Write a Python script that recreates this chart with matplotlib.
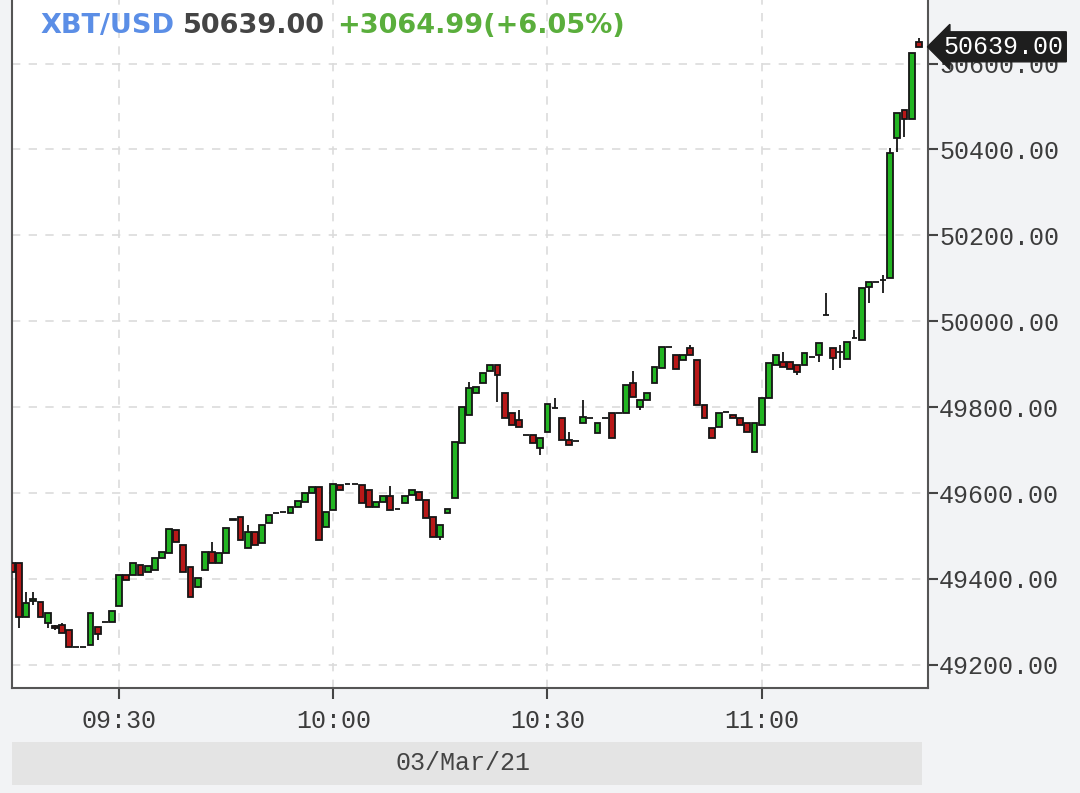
import matplotlib
matplotlib.use("Agg")
import matplotlib.pyplot as plt
from matplotlib.patches import Rectangle
import numpy as np

# 1-minute candles from 09:15 to 11:22, 03/Mar/21
opens = [49437, 49437, 49312, 49349, 49347, 49298, 49290, 49293, 49281, 49242,
         49242, 49247, 49288, 49300, 49300, 49337, 49410, 49410, 49433, 49416,
         49421, 49449, 49461, 49514, 49479, 49428, 49382, 49421, 49463, 49437,
         49461, 49540, 49545, 49472, 49510, 49484, 49531, 49554, 49556, 49554,
         49568, 49580, 49600, 49614, 49521, 49561, 49619, 49621, 49621, 49619,
         49607, 49568, 49579, 49593, 49563, 49577, 49596, 49603, 49584, 49545,
         49498, 49554, 49589, 49717, 49782, 49833, 49856, 49884, 49898, 49833,
         49787, 49770, 49735, 49735, 49705, 49742, 49798, 49775, 49724, 49721,
         49763, 49775, 49740, 49775, 49787, 49787, 49787, 49856, 49800, 49817,
         49856, 49891, 49940, 49922, 49910, 49938, 49910, 49805, 49752, 49754,
         49789, 49782, 49775, 49763, 49696, 49759, 49822, 49898, 49905, 49905,
         49898, 49898, 49917, 49922, 50015, 49938, 49929, 49912, 49961, 49956,
         50080, 50091, 50096, 50101, 50427, 50492, 50471, 50650]
closes = [49415, 49312, 49344, 49353, 49312, 49321, 49286, 49274, 49242, 49242,
          49242, 49321, 49272, 49300, 49326, 49410, 49398, 49437, 49410, 49430,
          49449, 49463, 49517, 49486, 49416, 49358, 49402, 49463, 49437, 49461,
          49519, 49538, 49491, 49510, 49479, 49526, 49549, 49554, 49556, 49568,
          49582, 49600, 49614, 49491, 49556, 49621, 49607, 49621, 49621, 49577,
          49568, 49579, 49593, 49561, 49563, 49593, 49607, 49584, 49542, 49498,
          49526, 49563, 49719, 49800, 49845, 49847, 49880, 49898, 49875, 49775,
          49759, 49754, 49735, 49717, 49728, 49808, 49798, 49724, 49712, 49721,
          49777, 49775, 49763, 49775, 49728, 49787, 49852, 49824, 49817, 49833,
          49894, 49940, 49940, 49889, 49922, 49922, 49805, 49775, 49728, 49787,
          49789, 49775, 49759, 49742, 49763, 49822, 49903, 49922, 49894, 49889,
          49882, 49926, 49917, 49950, 50015, 49915, 49929, 49952, 49961, 50078,
          50091, 50091, 50096, 50392, 50485, 50471, 50625, 50639]
# wick tips that stick out beyond the body (candle index -> price)
wick_highs = {1: 49437, 2: 49370, 3: 49370, 6: 49293, 7: 49298, 28: 49486,
              33: 49526, 53: 49617, 64: 49859, 71: 49794, 76: 49822, 78: 49742,
              80: 49817, 87: 49884, 95: 49945, 108: 49929, 114: 50066,
              116: 49945, 118: 49980, 122: 50108, 123: 50404, 127: 50660}
wick_lows = {1: 49286, 3: 49340, 5: 49286, 6: 49281, 12: 49258, 26: 49379,
             60: 49491, 68: 49812, 74: 49689, 88: 49794, 110: 49875,
             113: 49905, 115: 49887, 116: 49891, 120: 50043, 122: 50066,
             124: 50394, 125: 50429}

tick_minutes = [15, 45, 75, 105]
tick_labels = ["09:30", "10:00", "10:30", "11:00"]
price_ticks = [49200, 49400, 49600, 49800, 50000, 50200, 50400, 50600]

symbol = "XBT/USD"
last_price = "50639.00"
change = "+3064.99(+6.05%)"
date_label = "03/Mar/21"

W, H = 1080, 793
bg = "#f2f3f5"
edge = "#151515"
up_col = "#22b522"
down_col = "#b81818"
txt = "#3c3c3c"
mono = "Liberation Mono"

fig = plt.figure(figsize=(W / 100, H / 100), dpi=100, facecolor=bg)
ax = fig.add_axes([12 / W, 1 - 688 / H, (928 - 12) / W, 688 / H])
ax.set_facecolor("white")

o = np.array(opens, dtype=float)
c = np.array(closes, dtype=float)
x = np.arange(len(o))
hi = np.maximum(o, c)
lo = np.minimum(o, c)
for k, v in wick_highs.items():
    hi[k] = max(hi[k], v)
for k, v in wick_lows.items():
    lo[k] = min(lo[k], v)

colors = [up_col if cc > oo else down_col for oo, cc in zip(o, c)]
ax.vlines(x, lo, hi, color=edge, lw=1.3, zorder=2)
ax.bar(x, np.abs(c - o), bottom=np.minimum(o, c), width=0.82, color=colors,
       edgecolor=edge, linewidth=1.3, zorder=3)

ax.set_xlim(0, 128.3)
ax.set_ylim(49146, 50748)

ax.grid(True, color="#dcdcdc", linestyle=(0, (5, 5)), lw=1.2, zorder=0)
ax.set_axisbelow(True)

ax.set_xticks(tick_minutes)
ax.set_xticklabels(tick_labels, family=mono)
ax.set_yticks(price_ticks)
ax.set_yticklabels([f"{p:.2f}" for p in price_ticks], family=mono)
ax.yaxis.tick_right()
ax.tick_params(axis="y", direction="out", length=7, width=1.5, color="#444",
               pad=1, labelsize=18, labelcolor=txt)
ax.tick_params(axis="x", direction="out", length=8, width=1.5, color="#444",
               pad=7, labelsize=18, labelcolor=txt)

for side in ["left", "bottom", "right"]:
    ax.spines[side].set_color("#555555")
    ax.spines[side].set_linewidth(1.5)
ax.spines["top"].set_visible(False)

# last price marker
ax.annotate(last_price, xy=(1.0, closes[-1]), xycoords=ax.get_yaxis_transform(),
            xytext=(11, 0), textcoords="offset points", va="center", ha="left",
            fontsize=18, color="white", family=mono,
            bbox=dict(boxstyle="larrow,pad=0.12", fc="#1e1e1e", ec="#1e1e1e"),
            annotation_clip=False, zorder=10)

# header
ty = 1 - 33 / H
fig.text(40 / W, ty, symbol, color="#5b8ee6", fontsize=19.5, fontweight="bold", va="baseline")
fig.text(183 / W, ty, last_price, color="#444444", fontsize=19.5, fontweight="bold", va="baseline")
fig.text(337 / W, ty, change, color="#5aae3c", fontsize=19.5, fontweight="bold", va="baseline")

# date bar
fig.patches.append(Rectangle((12 / W, 1 - 785 / H), 910 / W, 43 / H,
                             transform=fig.transFigure, fc="#e4e4e4", ec="none"))
fig.text(463 / W, 1 - 763 / H, date_label, color="#444444", fontsize=18,
         family=mono, ha="center", va="center")

fig.savefig("out.png", dpi=100, facecolor=bg)
